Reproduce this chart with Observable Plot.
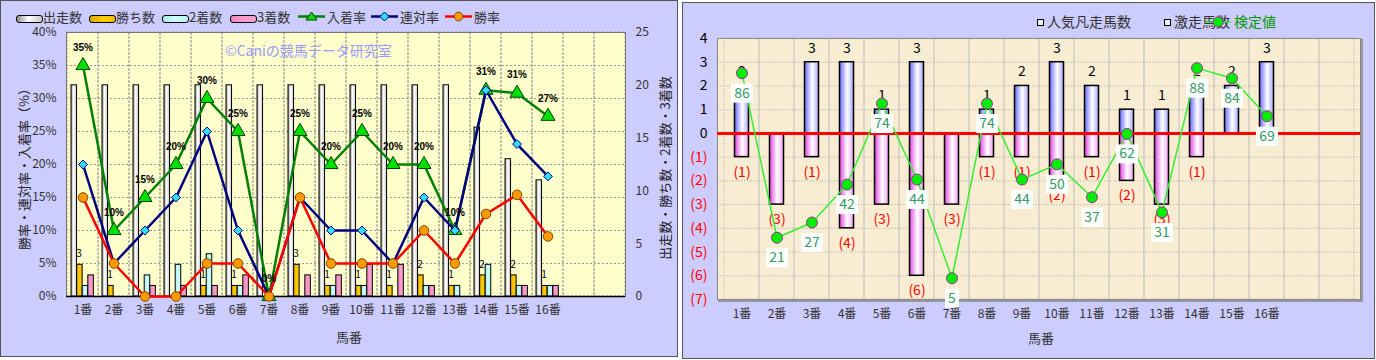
<!DOCTYPE html>
<html><head><meta charset="utf-8">
<script src="https://cdn.jsdelivr.net/npm/d3@7"></script>
<script src="https://cdn.jsdelivr.net/npm/@observablehq/plot@0.6"></script>
<style>
body{margin:0;background:#fff;font-family:"Noto Sans CJK JP","Noto Sans",sans-serif;width:1376px;height:360px;position:relative;overflow:hidden}
.panel{position:absolute;box-sizing:border-box;border:1px solid #555;background:#ccccff;overflow:hidden}
.panel svg{position:absolute;left:0;top:0}
.abs{position:absolute;white-space:nowrap;line-height:1}
.leg{font-size:13px;color:#333}
.sw{position:absolute;width:25px;height:6px;border:1px solid #000;border-radius:3px;top:5px}
</style></head><body>
<div id="left" class="panel" style="left:0;top:0;width:678px;height:357px"></div>
<div id="right" class="panel" style="left:682px;top:2px;width:693px;height:357px"></div>
<script>
// ---------- data ----------
const horses = ["1番","2番","3番","4番","5番","6番","7番","8番","9番","10番","11番","12番","13番","14番","15番","16番"];
const emptySlots = ["", " "];
// left chart (counts)
const runs    = [20,20,20,20,20,20,20,20,20,20,20,20,20,16,13,11];
const wins    = [3,1,0,0,1,1,0,3,1,1,1,2,1,2,2,1];
const seconds = [1,0,2,3,4,1,0,0,1,1,0,1,1,3,1,1];
const thirds  = [2,0,1,1,1,2,0,2,2,3,3,1,0,0,1,1];
// left chart (rates %)
const placeRate    = [35,10,15,20,30,25,0,25,20,25,20,20,10,31.25,30.8,27.3];
const quinellaRate = [20,5,10,15,25,10,0,15,10,10,5,15,10,31.25,23.1,18.2];
const winRate      = [15,5,0,0,5,5,0,15,5,5,5,10,5,12.5,15.4,9.1];
const pctTicks   = [0,5,10,15,20,25,30,35,40];
const countTicks = [0,5,10,15,20,25];
// right chart
const ninkiBonsou = [2,0,3,3,1,3,0,1,2,3,2,1,1,2,2,3];
const gekisou     = [1,3,1,4,3,6,3,1,1,2,1,2,3,1,0,0];
const kentei      = [86,21,27,42,74,44,5,74,44,50,37,62,31,88,84,69];
const rightTicksPos = [0,1,2,3,4];
const rightTicksNeg = [-1,-2,-3,-4,-5,-6,-7];
const kenteiAxis = [-3.4, 99.7]; // hidden secondary axis domain

const xDomain = [...horses, ...emptySlots];
const FONT = '"Noto Sans CJK JP","Noto Sans",sans-serif';

function defsMark(html){
  return () => { const g = document.createElementNS("http://www.w3.org/2000/svg","g"); g.innerHTML = html; return g; };
}

// ---------- LEFT ----------
const L = {w:676, h:355, ml:65, mr:52, mt:31, mb:60};
const slotL = (L.w - L.ml - L.mr) / xDomain.length;
const k = pctTicks[pctTicks.length-1] / countTicks[countTicks.length-1];
const leftData = horses.map((h,i)=>({h, runs:runs[i], wins:wins[i], seconds:seconds[i], thirds:thirds[i], place:placeRate[i], quin:quinellaRate[i], win:winRate[i]}));
const bw = 5.6, pad0 = 4;
const ins = i => ({insetLeft: pad0 + bw*i, insetRight: slotL - pad0 - bw*(i+1)});
const leftDefs = `<defs>
<linearGradient id="gW" x1="0" x2="1"><stop offset="0" stop-color="#8c8c8c"/><stop offset="0.45" stop-color="#ffffff"/><stop offset="1" stop-color="#c8c8c8"/></linearGradient>
<linearGradient id="gY" x1="0" x2="1"><stop offset="0" stop-color="#d9a400"/><stop offset="0.5" stop-color="#ffcc00"/><stop offset="1" stop-color="#f0bc00"/></linearGradient>
<linearGradient id="gC" x1="0" x2="1"><stop offset="0" stop-color="#a8e8e8"/><stop offset="0.5" stop-color="#ccffff"/><stop offset="1" stop-color="#b8f0f0"/></linearGradient>
<linearGradient id="gP" x1="0" x2="1"><stop offset="0" stop-color="#e888c0"/><stop offset="0.5" stop-color="#ff99cc"/><stop offset="1" stop-color="#f0a0cc"/></linearGradient>
</defs>`;

const leftPlot = Plot.plot({
  width:L.w, height:L.h, marginLeft:L.ml, marginRight:L.mr, marginTop:L.mt, marginBottom:L.mb,
  style:{background:"transparent", fontFamily:FONT, fontSize:"12px", color:"#333", overflow:"visible"},
  x:{type:"band", domain:xDomain, padding:0, axis:null},
  y:{domain:[pctTicks[0], pctTicks[pctTicks.length-1]], axis:null},
  marks:[
    defsMark(leftDefs),
    Plot.frame({fill:"#ffffcc", stroke:"none"}),
    Plot.gridY(pctTicks, {stroke:"#999", strokeOpacity:1, strokeDasharray:"2,2"}),
    Plot.barY(xDomain, {x:d=>d, y1:pctTicks[0], y2:pctTicks[pctTicks.length-1], fill:"none", stroke:"#999", strokeDasharray:"2,2"}),
    Plot.frame({stroke:"#777"}),
    Plot.barY(leftData, {x:"h", y:d=>d.runs*k, fill:"url(#gW)", stroke:"#000", strokeWidth:1, ...ins(0)}),
    Plot.barY(leftData, {x:"h", y:d=>d.wins*k, fill:"url(#gY)", stroke:"#000", strokeWidth:1, ...ins(1)}),
    Plot.barY(leftData, {x:"h", y:d=>d.seconds*k, fill:"url(#gC)", stroke:"#000", strokeWidth:1, ...ins(2)}),
    Plot.barY(leftData, {x:"h", y:d=>d.thirds*k, fill:"url(#gP)", stroke:"#000", strokeWidth:1, ...ins(3)}),
    Plot.text(leftData.filter(d=>d.wins>0), {x:"h", y:d=>d.wins*k, text:d=>String(d.wins), dx:-4, dy:-11, fontSize:10, fill:"#000"}),
    Plot.ruleY([0], {stroke:"#000", strokeWidth:1.5}),
    Plot.line(leftData, {x:"h", y:"place", stroke:"#008000", strokeWidth:2.5}),
    Plot.dot(leftData, {x:"h", y:"place", symbol:"triangle", r:5.2, fill:"#00e000", stroke:"#004000", strokeWidth:1}),
    Plot.line(leftData, {x:"h", y:"quin", stroke:"#000080", strokeWidth:2.5}),
    Plot.dot(leftData, {x:"h", y:"quin", symbol:"diamond2", r:4, fill:"#33ddff", stroke:"#000080", strokeWidth:1}),
    Plot.line(leftData, {x:"h", y:"win", stroke:"#ff0000", strokeWidth:2.5}),
    Plot.dot(leftData, {x:"h", y:"win", r:4.8, fill:"#ff9900", stroke:"#7a4a00", strokeWidth:1}),
    Plot.text(leftData, {x:"h", y:"place", text:d=>Math.round(d.place)+"%", dy:-18, fontSize:10, fontWeight:"bold", fill:"#000", fontFamily:"Liberation Sans, Arial, sans-serif"}),
    Plot.axisY(pctTicks, {anchor:"left", tickSize:0, tickPadding:10, tickFormat:d=>d+"%", label:null, fontSize:12}),
    Plot.axisY(countTicks.map(d=>d*k), {anchor:"right", tickSize:0, tickPadding:10, tickFormat:d=>String(Math.round(d/k)), label:null, fontSize:12}),
    Plot.axisX(horses, {anchor:"bottom", tickSize:0, tickPadding:9, label:null, fontSize:12})
  ]
});
const left = document.getElementById("left");
left.appendChild(leftPlot);

// legend left
function addAbs(parent, html, style){ const d=document.createElement("div"); d.className="abs"; d.innerHTML=html; Object.assign(d.style, style); parent.appendChild(d); return d; }
const legBars = [["出走数","linear-gradient(90deg,#8c8c8c,#fff 45%,#c8c8c8)",15],["勝ち数","linear-gradient(90deg,#d9a400,#ffcc00 50%,#f0bc00)",88],["2着数","linear-gradient(90deg,#a8e8e8,#ccffff 50%,#b8f0f0)",161],["3着数","linear-gradient(90deg,#e888c0,#ff99cc 50%,#f0a0cc)",229]];
legBars.forEach(([t,g,x])=>{
  addAbs(left, `<div class="sw" style="left:0;background:${g}"></div><span class="leg" style="position:absolute;left:27px;top:0">${t}</span>`, {left:x+"px", top:"9px", width:"80px", height:"16px"});
});
const legLines = [["入着率","#008000",297,'<polygon points="13.5,3 19,11 8,11" fill="#00e000" stroke="#004000"/>'],
                  ["連対率","#000080",370,'<polygon points="13.5,3 18,7.5 13.5,12 9,7.5" fill="#33ddff" stroke="#000080"/>'],
                  ["勝率","#ff0000",444,'<circle cx="13.5" cy="7.5" r="4.3" fill="#ff9900" stroke="#7a4a00"/>']];
legLines.forEach(([t,c,x,m])=>{
  addAbs(left, `<svg width="28" height="15" style="position:absolute;left:0;top:0"><line x1="0" x2="27" y1="7.5" y2="7.5" stroke="${c}" stroke-width="2.5"/>${m}</svg><span class="leg" style="position:absolute;left:29px;top:1px">${t}</span>`, {left:x+"px", top:"8px", width:"80px", height:"16px"});
});
addAbs(left, "©Caniの競馬データ研究室", {left:"224px", top:"42px", fontSize:"14px", color:"#9999ff"});
addAbs(left, "勝率・連対率・入着率（%）", {left:"22px", top:"165px", fontSize:"13px", color:"#222", transform:"translate(-50%,-50%) rotate(-90deg)"});
addAbs(left, "出走数・勝ち数・2着数・3着数", {left:"663px", top:"167px", fontSize:"13px", color:"#222", transform:"translate(-50%,-50%) rotate(-90deg)"});
addAbs(left, "馬番", {left:"348px", top:"335px", fontSize:"13px", color:"#333", transform:"translate(-50%,-50%)"});

// ---------- RIGHT ----------
const R = {w:691, h:355, ml:34, mr:14, mt:35, mb:59};
const rightData = horses.map((h,i)=>({h, ninki:ninkiBonsou[i], geki:gekisou[i], kentei:kentei[i]}));
const yR = [rightTicksNeg[rightTicksNeg.length-1], rightTicksPos[rightTicksPos.length-1]];
const kScale = d3.scaleLinear().domain(kenteiAxis).range(yR);
const box = w => ({draw(ctx){ ctx.rect(-w/2, -9.5, w, 19); }});
const rightDefs = `<defs>
<linearGradient id="gB" x1="0" x2="1"><stop offset="0" stop-color="#6666ff"/><stop offset="0.55" stop-color="#ffffff"/><stop offset="1" stop-color="#a8a8ff"/></linearGradient>
<linearGradient id="gM" x1="0" x2="1"><stop offset="0" stop-color="#e040e0"/><stop offset="0.55" stop-color="#ffffff"/><stop offset="1" stop-color="#f0a0f0"/></linearGradient>
</defs>`;
const rightPlot = Plot.plot({
  width:R.w, height:R.h, marginLeft:R.ml, marginRight:R.mr, marginTop:R.mt, marginBottom:R.mb,
  style:{background:"transparent", fontFamily:FONT, fontSize:"12px", color:"#333", overflow:"visible"},
  x:{type:"band", domain:xDomain, padding:0, axis:null},
  y:{domain:yR, axis:null},
  marks:[
    defsMark(rightDefs),
    Plot.frame({stroke:"#999", strokeWidth:2, dx:1.5, dy:1.5}),
    Plot.frame({fill:"#f8edd2", stroke:"none"}),
    Plot.gridY(d3.range(yR[0], yR[1]+1), {stroke:"#bbb", strokeOpacity:1, strokeDasharray:"1.5,1.5"}),
    Plot.barY(xDomain, {x:d=>d, y1:yR[0], y2:yR[1], fill:"none", stroke:"#bbb", strokeDasharray:"1.5,1.5"}),
    Plot.frame({stroke:"#888"}),
    Plot.barY(rightData.filter(d=>d.ninki>0), {x:"h", y:"ninki", fill:"url(#gB)", stroke:"#000", strokeWidth:1.5, insetLeft:10.5, insetRight:10.5}),
    Plot.barY(rightData.filter(d=>d.geki>0), {x:"h", y:d=>-d.geki, fill:"url(#gM)", stroke:"#000", strokeWidth:1.5, insetLeft:10.5, insetRight:10.5}),
    Plot.ruleY([0], {stroke:"#ff0000", strokeWidth:3}),
    Plot.text(rightData.filter(d=>d.ninki>0), {x:"h", y:"ninki", text:d=>String(d.ninki), dy:-14, fontSize:14, fill:"#000"}),
    Plot.text(rightData.filter(d=>d.geki>0), {x:"h", y:d=>-d.geki, text:d=>`(${d.geki})`, dy:15, fontSize:14, fill:"#ff0000"}),
    Plot.line(rightData, {x:"h", y:d=>kScale(d.kentei), stroke:"#33ee33", strokeWidth:1.5}),
    Plot.dot(rightData, {x:"h", y:d=>kScale(d.kentei), r:5.5, fill:"#00ee00", stroke:"#993399", strokeWidth:1}),
    Plot.dot(rightData.filter(d=>d.kentei>=10), {x:"h", y:d=>kScale(d.kentei), symbol:box(22), fill:"#fff", stroke:"none", dy:20}),
    Plot.dot(rightData.filter(d=>d.kentei<10), {x:"h", y:d=>kScale(d.kentei), symbol:box(14), fill:"#fff", stroke:"none", dy:20}),
    Plot.text(rightData, {x:"h", y:d=>kScale(d.kentei), text:d=>String(d.kentei), dy:20, fontSize:14, fill:"#339966"}),
    Plot.axisY(rightTicksPos, {anchor:"left", tickSize:0, tickPadding:10, label:null, fontSize:14, color:"#000"}),
    Plot.axisY(rightTicksNeg, {anchor:"left", tickSize:0, tickPadding:10, label:null, fontSize:14, color:"#ff0000", tickFormat:d=>`(${-d})`}),
    Plot.axisX(horses, {anchor:"bottom", tickSize:0, tickPadding:10, label:null, fontSize:12})
  ]
});
const right = document.getElementById("right");
right.appendChild(rightPlot);
const sq = '<span style="position:absolute;left:0;top:5px;width:5px;height:5px;border:1.5px solid #000;background:#eee"></span>';
addAbs(right, `${sq}<span style="position:absolute;left:10px;top:0;font-size:14px;color:#333">人気凡走馬数</span>`, {left:"354px", top:"11px", width:"100px", height:"18px"});
addAbs(right, `${sq}<span style="position:absolute;left:10px;top:0;font-size:14px;color:#333">激走馬数</span>`, {left:"481px", top:"11px", width:"80px", height:"18px"});
addAbs(right, `<svg width="28" height="16" style="position:absolute;left:0;top:0"><line x1="0" x2="26" y1="8" y2="8" stroke="#33ee33" stroke-width="1.5"/><circle cx="13" cy="8" r="5" fill="#00ee00" stroke="#993399"/></svg><span style="position:absolute;left:29px;top:0;font-size:14px;color:#009900">検定値</span>`, {left:"522px", top:"11px", width:"80px", height:"18px"});
addAbs(right, "馬番", {left:"358px", top:"334px", fontSize:"13px", color:"#333", transform:"translate(-50%,-50%)"});
</script>
</body></html>
